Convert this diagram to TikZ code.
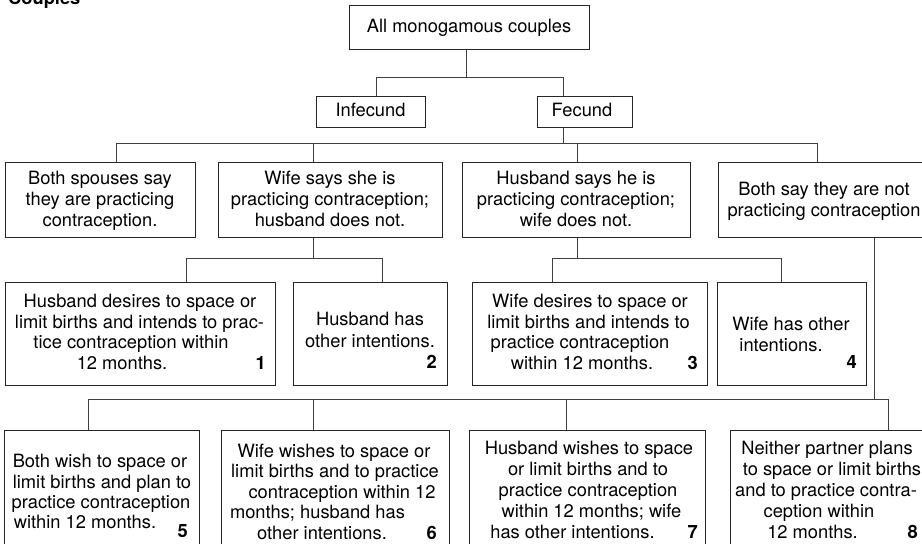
\documentclass[tikz,border=0pt]{standalone}
\usepackage{fontspec}
\setmainfont{TeX Gyre Heros}
\begin{document}
\begin{tikzpicture}[x=1pt,y=-1pt,
  box/.style={draw=black!85, line width=1pt, inner sep=0pt},
  wire/.style={draw=black!75, line width=0.9pt},
  ln/.style={anchor=base, inner sep=0pt, font=\fontsize{18.3}{21}\selectfont},
  num/.style={anchor=base east, inner sep=0pt, font=\bfseries\fontsize{18.3}{21}\selectfont}]
\useasboundingbox (0,0) rectangle (922,544);
\fill[white] (0,0) rectangle (922,544);

% title
\node[anchor=base west, inner sep=0pt, font=\bfseries\fontsize{18.3}{21}\selectfont] (title) at (8,4) {Couples};

% boxes
\node[box, minimum width=240pt, minimum height=44pt] (top) at (469,27) {};
\node[box, minimum width=109pt, minimum height=31pt] (inf) at (370.5,111.5) {};
\node[box, minimum width=95pt, minimum height=31pt] (fec) at (584.5,111.5) {};

\node[box, minimum width=190pt, minimum height=75pt] (A) at (100,199.5) {};
\node[box, minimum width=224pt, minimum height=75pt] (B) at (330,199.5) {};
\node[box, minimum width=228pt, minimum height=75pt] (C) at (576,199.5) {};
\node[box, minimum width=212pt, minimum height=75pt] (D) at (824,199.5) {};

\node[box, minimum width=270pt, minimum height=103pt] (b1) at (140,333.5) {};
\node[box, minimum width=154pt, minimum height=103pt] (b2) at (370,333.5) {};
\node[box, minimum width=235pt, minimum height=103pt] (b3) at (589.5,333.5) {};
\node[box, minimum width=149pt, minimum height=103pt] (b4) at (791.5,333.5) {};

\node[box, minimum width=195pt, minimum height=130pt] (b5) at (101.5,495) {};
\node[box, minimum width=228pt, minimum height=130pt] (b6) at (335,495) {};
\node[box, minimum width=236pt, minimum height=130pt] (b7) at (587,495) {};
\node[box, minimum width=196pt, minimum height=130pt] (b8) at (828,495) {};

% texts
\node[ln] (ttop) at (469,32) {All monogamous couples};
\node[ln] (tinf) at (370.5,116) {Infecund};
\node[ln] (tfec) at (582,116) {Fecund};

\foreach \s/\x/\y [count=\k] in {Both spouses say/100/184, they are practicing/100/205, contraception./100/226}
  \node[ln] (tA\k) at (\x,\y) {\s};
\foreach \s/\x/\y [count=\k] in {Wife says she is/330/184, practicing contraception;/330/205, husband does not./330/226}
  \node[ln] (tB\k) at (\x,\y) {\s};
\foreach \s/\x/\y [count=\k] in {Husband says he is/576/184, practicing contraception;/576/205, wife does not./576/226}
  \node[ln] (tC\k) at (\x,\y) {\s};
\foreach \s/\x/\y [count=\k] in {Both say they are not/824/195, practicing contraception/824/216}
  \node[ln] (tD\k) at (\x,\y) {\s};

\foreach \s/\x/\y [count=\k] in {Husband desires to space or/140/307, limit births and intends to prac-/139.5/328, tice contraception within/131/348.5, 12 months./122/369}
  \node[ln] (t1\k) at (\x,\y) {\s};
\node[num] (n1) at (266,369) {1};
\foreach \s/\x/\y [count=\k] in {Husband has/370/325, other intentions./370/347}
  \node[ln] (t2\k) at (\x,\y) {\s};
\node[num] (n2) at (437,368) {2};
\foreach \s/\x/\y [count=\k] in {Wife desires to space or/590/307, limit births and intends to/588.5/328, practice contraception/580/348.5, within 12 months./582/369}
  \node[ln] (t3\k) at (\x,\y) {\s};
\node[num] (n3) at (698,369) {3};
\foreach \s/\x/\y [count=\k] in {Wife has other/791/330, intentions./781/351}
  \node[ln] (t4\k) at (\x,\y) {\s};
\node[num] (n4) at (857,368) {4};

\foreach \s/\x/\y [count=\k] in {Both wish to space or/100/467.5, limit births and plan to/102/488, practice contraception/101/508, within 12 months./85/528}
  \node[ln] (t5\k) at (\x,\y) {\s};
\node[num] (n5) at (188,537) {5};
\foreach \s/\x/\y [count=\k] in {Wife wishes to space or/334/457, limit births and to practice/335/477.5, contraception within 12/342/498, months; husband has/317.5/518.5, other intentions./322/539}
  \node[ln] (t6\k) at (\x,\y) {\s};
\node[num] (n6) at (437,539) {6};
\foreach \s/\x/\y [count=\k] in {Husband wishes to space/589/454, or limit births and to/588/475, practice contraception/588/496, within 12 months; wife/591.5/517, has other intentions./572.5/538}
  \node[ln] (t7\k) at (\x,\y) {\s};
\node[num] (n7) at (698,538) {7};
\foreach \s/\x/\y [count=\k] in {Neither partner plans/827/454, to space or limit births/832/475, and to practice contra-/826/496, ception within/819/517, 12 months./812.5/538}
  \node[ln] (t8\k) at (\x,\y) {\s};
\node[num] (n8) at (918,538) {8};

% connector junctions
\coordinate (j0) at (466,77);
\coordinate (jinf) at (376,77);
\coordinate (jfec) at (563,77);
\coordinate (jf2) at (563,143);
\coordinate (hA) at (116,143);
\coordinate (hB) at (313,143);
\coordinate (hC) at (577,143);
\coordinate (hD) at (817,143);
\coordinate (hB3) at (313,258);
\coordinate (h1) at (186,258);
\coordinate (h2) at (382,258);
\coordinate (hC3) at (577,258);
\coordinate (h3) at (552,258);
\coordinate (h4) at (781,258);
\coordinate (hD4) at (874,399);
\coordinate (h5) at (88,399);
\coordinate (h6) at (313,399);
\coordinate (h7) at (566,399);
\coordinate (h8) at (888,399);

% connectors
\draw[wire] (top.south -| j0) -- (j0);
\draw[wire] (inf.north -| jinf) -- (jinf) -- (jfec) -- (fec.north -| jfec);
\draw[wire] (fec.south -| jf2) -- (jf2);
\draw[wire] (A.north -| hA) -- (hA) -- (hD) -- (D.north -| hD);
\draw[wire] (hB) -- (B.north -| hB);
\draw[wire] (hC) -- (C.north -| hC);
\draw[wire] (B.south -| hB3) -- (hB3);
\draw[wire] (b1.north -| h1) -- (h1) -- (h2) -- (b2.north -| h2);
\draw[wire] (C.south -| hC3) -- (hC3);
\draw[wire] (b3.north -| h3) -- (h3) -- (h4) -- (b4.north -| h4);
\draw[wire] (D.south -| hD4) -- (hD4);
\draw[wire] (b5.north -| h5) -- (h5) -- (h8) -- (b8.north -| h8);
\draw[wire] (h6) -- (b6.north -| h6);
\draw[wire] (h7) -- (b7.north -| h7);
\end{tikzpicture}
\end{document}
